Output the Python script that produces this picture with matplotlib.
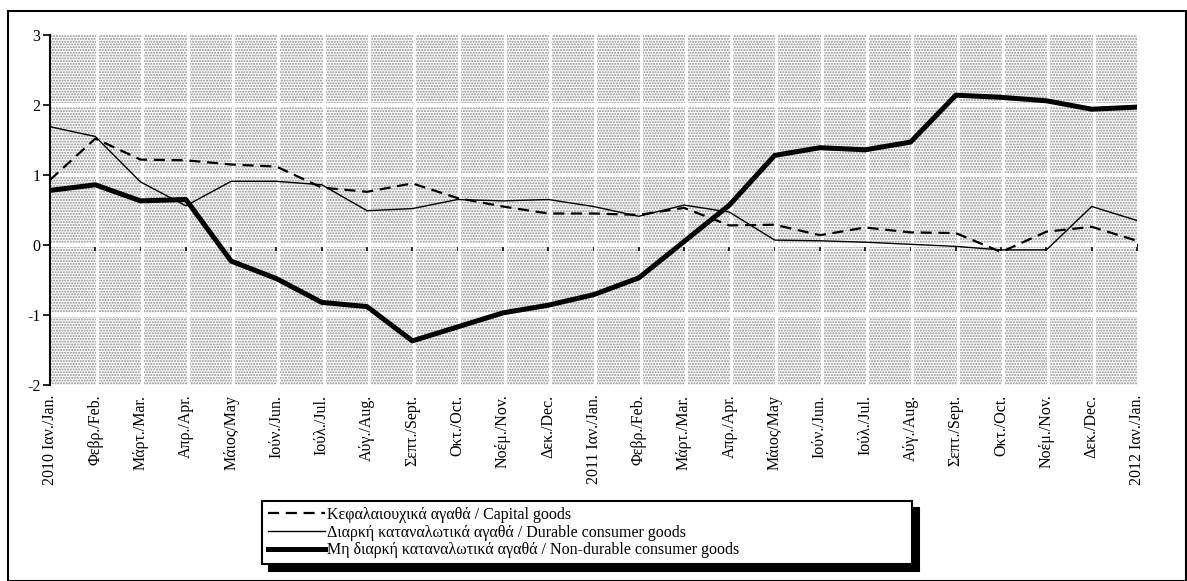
import matplotlib
matplotlib.use('Agg')
import matplotlib.pyplot as plt
from matplotlib.patches import Rectangle

plt.rcParams['font.family'] = ['Liberation Serif', 'DejaVu Serif']
plt.rcParams['axes.unicode_minus'] = False

labels = ["2010 Ιαν./Jan.", "Φεβρ./Feb.", "Μάρτ./Mar.", "Απρ./Apr.", "Μάιος/May",
          "Ιούν./Jun.", "Ιούλ./Jul.", "Αύγ./Aug.", "Σεπτ./Sept.", "Οκτ./Oct.",
          "Νοέμ./Nov.", "Δεκ./Dec.", "2011 Ιαν./Jan.", "Φεβρ./Feb.", "Μάρτ./Mar.",
          "Απρ./Apr.", "Μάιος/May", "Ιούν./Jun.", "Ιούλ./Jul.", "Αύγ./Aug.",
          "Σεπτ./Sept.", "Οκτ./Oct.", "Νοέμ./Nov.", "Δεκ./Dec.", "2012 Ιαν./Jan."]

capital = [0.93, 1.52, 1.22, 1.21, 1.15, 1.12, 0.82, 0.76, 0.88, 0.67, 0.55, 0.45, 0.45,
           0.43, 0.53, 0.28, 0.29, 0.14, 0.25, 0.18, 0.17, -0.10, 0.19, 0.26, 0.06]
durable = [1.69, 1.55, 0.90, 0.56, 0.91, 0.91, 0.86, 0.49, 0.52, 0.65, 0.63, 0.65, 0.55,
           0.41, 0.57, 0.47, 0.07, 0.06, 0.04, 0.01, -0.02, -0.07, -0.07, 0.55, 0.35]
nondurable = [0.78, 0.86, 0.63, 0.65, -0.23, -0.48, -0.82, -0.88, -1.37, -1.17, -0.97,
              -0.86, -0.71, -0.47, 0.05, 0.57, 1.28, 1.39, 1.36, 1.47, 2.14, 2.11, 2.06,
              1.94, 1.97]

names = ["Κεφαλαιουχικά αγαθά / Capital goods",
         "Διαρκή καταναλωτικά αγαθά / Durable consumer goods",
         "Μη διαρκή καταναλωτικά αγαθά / Non-durable consumer goods"]

x = list(range(len(labels)))

fig = plt.figure(figsize=(11.87, 5.81), dpi=100)
# outer frame
fig.patches.append(Rectangle((8/1187, 0.5/581), 1178/1187, 569.5/581, transform=fig.transFigure,
                             fill=False, edgecolor='black', lw=1.5))

ax = fig.add_axes([50/1187, 1-385/581, 1087/1187, 350/581])
ax.set_xlim(0, 24)
ax.set_ylim(-2, 3)

# dotted background
ax.add_patch(Rectangle((0, 0), 1, 1, transform=ax.transAxes, facecolor='white',
                       edgecolor='#8c8c8c', hatch='......', lw=0, zorder=0))
for xi in x[1:]:
    ax.axvline(xi + 0.04, color='white', lw=2.2, zorder=1)
for yi in range(-1, 3):
    ax.axhline(yi, color='white', lw=3, zorder=1)

ax.plot(x, capital, color='black', lw=1.6, dashes=(5, 3), zorder=4, label=names[0])
ax.plot(x, durable, color='black', lw=1.0, zorder=4, label=names[1])
ax.plot(x, nondurable, color='black', lw=3.6, zorder=5, label=names[2])

for s in ['top', 'right', 'bottom']:
    ax.spines[s].set_visible(False)
ax.spines['left'].set_linewidth(1.5)
ax.set_yticks(range(-2, 4))
ax.tick_params(axis='y', direction='out', length=5, width=1.2, labelsize=11.5, pad=2)

ax.set_xticks(x)
ax.set_xticklabels(labels, rotation=90, fontsize=11.5, va='top', ha='center')
ax.tick_params(axis='x', length=0, pad=7)

# zero axis with ticks
zero = ax.secondary_xaxis(0.4)
zero.set_xticks(x)
zero.set_xticklabels([])
zero.tick_params(direction='out', length=4, width=1.2)
zero.spines['bottom'].set_linewidth(1.5)

leg = fig.legend(loc='upper left', bbox_to_anchor=(262/1187, 0.02, 650/1187, 1-501/581-0.02),
                 bbox_transform=fig.transFigure, mode='expand', borderaxespad=0,
                 fontsize=11.5, labelspacing=0.12, handlelength=3.6, handletextpad=0.1,
                 borderpad=0.35, fancybox=False, edgecolor='black', framealpha=1,
                 shadow={'ox': 5, 'oy': -5, 'color': 'black', 'alpha': 1})
leg.get_frame().set_linewidth(1.5)

fig.savefig('out.png', dpi=100)
